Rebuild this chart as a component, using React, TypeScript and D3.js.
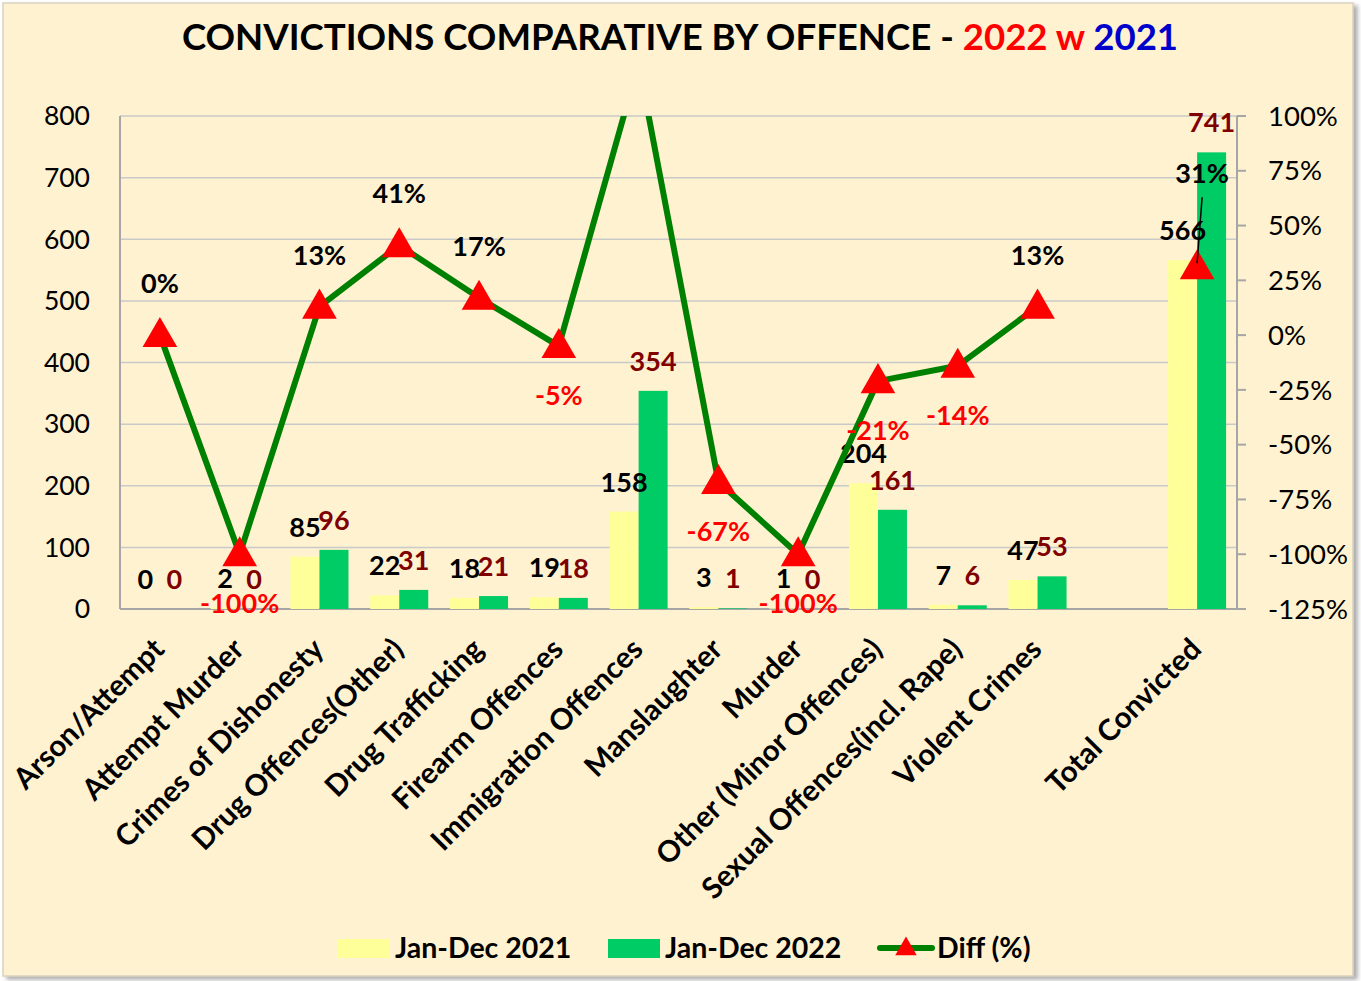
import React from 'react';
import * as d3 from 'd3';

// categories along the x axis ("" is the empty gap before the total)
const categories = [
  'Arson/Attempt',
  'Attempt Murder',
  'Crimes of Dishonesty',
  'Drug Offences(Other)',
  'Drug Trafficking',
  'Firearm Offences',
  'Immigration Offences',
  'Manslaughter',
  'Murder',
  'Other (Minor Offences)',
  'Sexual Offences(incl. Rape)',
  'Violent Crimes',
  '',
  'Total Convicted',
];

const convicted2021: (number | null)[] = [0, 2, 85, 22, 18, 19, 158, 3, 1, 204, 7, 47, null, 566];
const convicted2022: (number | null)[] = [0, 0, 96, 31, 21, 18, 354, 1, 0, 161, 6, 53, null, 741];
const diffPct: (number | null)[] = [0, -100, 13, 41, 17, -5, 124, -67, -100, -21, -14, 13, null, 31];

const leftTicks = [0, 100, 200, 300, 400, 500, 600, 700, 800];
const rightTicks = [-125, -100, -75, -50, -25, 0, 25, 50, 75, 100];

const W = 1361;
const H = 981;
const plot = { left: 120, right: 1237, top: 116, bottom: 609 };
const FONT = 'Lato, "Open Sans", sans-serif';

const YELLOW = '#FFFF99';
const GREEN = '#00CC66';
const LINE = '#008000';
const MAROON = '#800000';

export default function App() {
  const keys = categories.map((c, i) => c || `gap${i}`);
  const x = d3.scaleBand<string>().domain(keys).range([plot.left, plot.right]).padding(0);
  const yL = d3.scaleLinear().domain([0, 800]).range([plot.bottom, plot.top]);
  const yR = d3.scaleLinear().domain([-125, 100]).range([plot.bottom, plot.top]);
  const barW = 29;
  const cx = (i: number) => (x(keys[i]) as number) + x.bandwidth() / 2;

  const line = d3
    .line<number | null>()
    .defined((d) => d != null)
    .x((_, i) => cx(i))
    .y((d) => yR(d as number));

  const tri = d3.symbol().type(d3.symbolTriangle).size(520)();

  return (
    <svg width={W} height={H} style={{ position: 'absolute', left: 0, top: 0 }} fontFamily={FONT}>
      <defs>
        <clipPath id="plotClip">
          <rect x={plot.left} y={plot.top} width={plot.right - plot.left} height={plot.bottom - plot.top} />
        </clipPath>
        <filter id="shadow" x="-5%" y="-5%" width="110%" height="110%">
          <feDropShadow dx="4" dy="3" stdDeviation="2" floodColor="#999" floodOpacity="0.8" />
        </filter>
      </defs>
      <rect x={3} y={3} width={1350} height={973} fill="#FFF2D0" stroke="#D9D2BE" strokeWidth={1.5} filter="url(#shadow)" />

      {/* title */}
      <text x={680} y={50} textAnchor="middle" fontSize={36.6} fontWeight="bold">
        <tspan fill="#000">CONVICTIONS COMPARATIVE BY OFFENCE - </tspan>
        <tspan fill="#FF0000">2022 w </tspan>
        <tspan fill="#0000CC">2021</tspan>
      </text>

      {/* grid */}
      {leftTicks.map((t) => (
        <line key={t} x1={plot.left} x2={plot.right} y1={yL(t)} y2={yL(t)} stroke="#C9C9C9" strokeWidth={1.5} />
      ))}
      <line x1={plot.left} x2={plot.left} y1={plot.top} y2={plot.bottom} stroke="#A6A6A6" strokeWidth={2} />
      <line x1={plot.right} x2={plot.right} y1={plot.top} y2={plot.bottom} stroke="#A6A6A6" strokeWidth={2} />
      <line x1={plot.left} x2={plot.right} y1={plot.bottom} y2={plot.bottom} stroke="#A6A6A6" strokeWidth={2} />
      {rightTicks.map((t) => (
        <line key={t} x1={plot.right} x2={plot.right + 9} y1={yR(t)} y2={yR(t)} stroke="#A6A6A6" strokeWidth={2} />
      ))}

      {/* axis labels */}
      {leftTicks.map((t) => (
        <text key={t} x={90} y={yL(t)} dy="0.35em" textAnchor="end" fontSize={26.5}>
          {t}
        </text>
      ))}
      {rightTicks.map((t) => (
        <text key={t} x={1268} y={yR(t)} dy="0.35em" textAnchor="start" fontSize={27.5}>
          {t}%
        </text>
      ))}

      {/* bars */}
      {convicted2021.map((v, i) =>
        v == null ? null : (
          <rect key={'a' + i} x={cx(i) - barW} y={yL(v)} width={barW} height={yL(0) - yL(v)} fill={YELLOW} />
        )
      )}
      {convicted2022.map((v, i) =>
        v == null ? null : (
          <rect key={'b' + i} x={cx(i)} y={yL(v)} width={barW} height={yL(0) - yL(v)} fill={GREEN} />
        )
      )}

      {/* bar labels */}
      {convicted2021.map((v, i) =>
        v == null ? null : (
          <text key={'la' + i} x={cx(i) - barW / 2} y={yL(v) - 20} textAnchor="middle" fontSize={27} fontWeight="bold" fill="#000">
            {v}
          </text>
        )
      )}
      {convicted2022.map((v, i) =>
        v == null ? null : (
          <text key={'lb' + i} x={cx(i) + barW / 2} y={yL(v) - 20} textAnchor="middle" fontSize={27} fontWeight="bold" fill={MAROON}>
            {v}
          </text>
        )
      )}

      {/* diff line */}
      <path d={line(diffPct) || ''} fill="none" stroke={LINE} strokeWidth={6} strokeLinejoin="round" clipPath="url(#plotClip)" />
      {diffPct.map((v, i) =>
        v == null || v > 100 ? null : (
          <path key={'m' + i} d={tri || ''} transform={`translate(${cx(i)},${yR(v) + 2})`} fill="#FF0000" />
        )
      )}

      {/* diff labels */}
      {diffPct.map((v, i) => {
        if (v == null || v > 100) return null;
        const isTotal = i === categories.length - 1;
        if (isTotal) {
          return (
            <g key={'ld' + i}>
              <line x1={cx(i)} y1={yR(v) - 4} x2={cx(i) + 5} y2={yR(v) - 70} stroke="#000" strokeWidth={1.5} />
              <text x={cx(i) + 5} y={yR(v) - 84} textAnchor="middle" fontSize={27} fontWeight="bold" fill="#000">
                {v}%
              </text>
            </g>
          );
        }
        const pos = v >= 0;
        return (
          <text
            key={'ld' + i}
            x={cx(i)}
            y={pos ? yR(v) - 42 : yR(v) + 59}
            textAnchor="middle"
            fontSize={27}
            fontWeight="bold"
            fill={pos ? '#000' : '#FF0000'}
          >
            {v}%
          </text>
        );
      })}

      {/* category labels */}
      {categories.map((c, i) =>
        c ? (
          <text
            key={'c' + i}
            transform={`translate(${cx(i) + 6},${plot.bottom + 42}) rotate(-45)`}
            textAnchor="end"
            fontSize={29.5}
            fontWeight="bold"
          >
            {c}
          </text>
        ) : null
      )}

      {/* legend */}
      <rect x={338} y={939} width={52} height={19} fill={YELLOW} />
      <text x={395} y={958} fontSize={28.5} fontWeight="bold">Jan-Dec 2021</text>
      <rect x={608} y={939} width={52} height={19} fill={GREEN} />
      <text x={665} y={958} fontSize={28.5} fontWeight="bold">Jan-Dec 2022</text>
      <line x1={880} x2={932} y1={948} y2={948} stroke={LINE} strokeWidth={6} strokeLinecap="round" />
      <path d={d3.symbol().type(d3.symbolTriangle).size(200)() || ''} transform="translate(906,949)" fill="#FF0000" />
      <text x={937} y={958} fontSize={28.5} fontWeight="bold">Diff (%)</text>
    </svg>
  );
}
